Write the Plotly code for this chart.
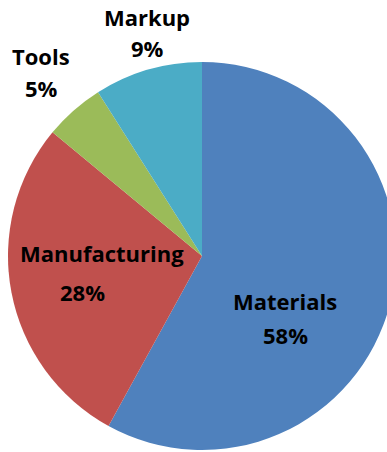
import plotly.graph_objects as go

# Data
categories = ["Materials", "Manufacturing", "Tools", "Markup"]
shares = [58, 28, 5, 9]
colors = ["#4F81BD", "#C0504D", "#9BBB59", "#4BACC6"]

W, H = 400, 452


def px(x):
    return x / W


def py(y):
    return 1 - y / H


fig = go.Figure(
    go.Pie(
        labels=categories,
        values=shares,
        sort=False,
        direction="clockwise",
        rotation=0,
        marker=dict(colors=colors, line=dict(width=0)),
        textinfo="none",
        hoverinfo="label+percent",
        domain=dict(x=[px(7), px(397)], y=[py(450), py(62)]),
        showlegend=False,
    )
)

# label placement (pixel positions of each text line centre)
label_pos = {
    "Materials": ((285, 301), (285, 335)),
    "Manufacturing": ((102, 253), (82, 292)),
    "Tools": ((41, 56), (41, 88)),
    "Markup": ((147, 17), (147, 48)),
}

font = dict(family="Open Sans", size=22, color="#000000")
annotations = []
for cat, val in zip(categories, shares):
    (x1, y1), (x2, y2) = label_pos[cat]
    annotations.append(dict(x=px(x1), y=py(y1), xref="paper", yref="paper",
                            text=f"<b>{cat}</b>", showarrow=False,
                            xanchor="center", yanchor="middle", font=font))
    annotations.append(dict(x=px(x2), y=py(y2), xref="paper", yref="paper",
                            text=f"<b>{val}%</b>", showarrow=False,
                            xanchor="center", yanchor="middle", font=font))

fig.update_layout(
    width=W,
    height=H,
    autosize=False,
    margin=dict(l=0, r=0, t=0, b=0),
    paper_bgcolor="white",
    plot_bgcolor="white",
    annotations=annotations,
)

fig.write_html(
    "out.html",
    config={"displayModeBar": False},
    post_script="document.body.style.margin='0';document.body.style.overflow='hidden';",
)
